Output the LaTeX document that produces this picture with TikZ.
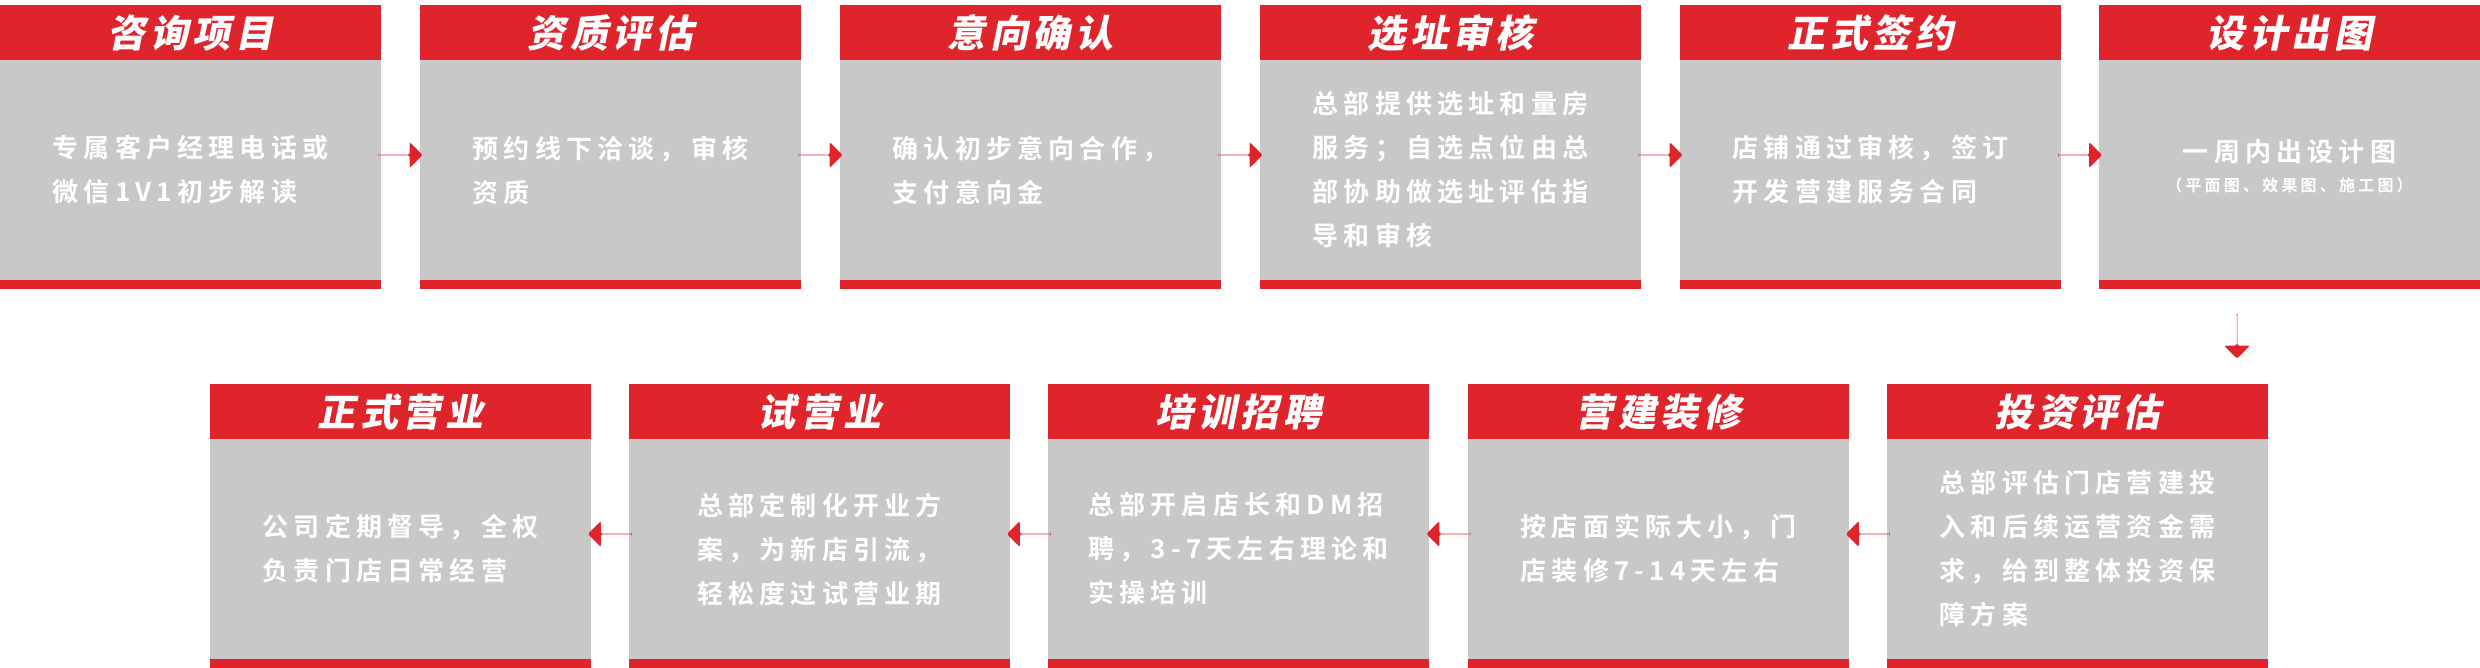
\documentclass[tikz,border=0pt]{standalone}
\usepackage{fontspec}
\usetikzlibrary{shapes.arrows,calc}
\newfontfamily\bodyf[LetterSpace=20]{Noto Sans CJK SC Bold}
\newfontfamily\headf[LetterSpace=12,FakeSlant=0.2]{Noto Sans CJK SC Black}
\definecolor{brand}{HTML}{E0242C}
\definecolor{panel}{HTML}{C8C8C8}
\tikzset{
  x=1pt,y=-1pt,
  bodytxt/.style={text=white,font=\bodyf\fontsize{26}{44}\selectfont,align=left,inner sep=0},
  headtxt/.style={text=white,font=\headf\fontsize{38}{40}\selectfont,inner sep=0},
  flowarrow/.style={single arrow,fill=brand,draw=none,minimum height=44,minimum width=26,single arrow head extend=10pt,single arrow head indent=0pt,inner sep=0,rounded corners=2pt},
}
\newcommand\stepbox[5]{%
  \fill[brand] (#2,#3) rectangle ++(381,55);
  \fill[panel] (#2,#3+55) rectangle ++(381,220);
  \fill[brand] (#2,#3+275) rectangle ++(381,9);
  \node[headtxt] (#1h) at (#2+190.5,#3+28) {#4};
  \node[bodytxt] (#1) at (#2+190.5,#3+165) {#5};
  \coordinate (#1w) at (#2,#3+150);
  \coordinate (#1e) at (#2+381,#3+150);
}
\begin{document}
\begin{tikzpicture}
\useasboundingbox (0,0) rectangle (2480,668);
\stepbox{s1}{0}{5}{咨询项目}{专属客户经理电话或\\微信1V1初步解读}
\stepbox{s2}{420}{5}{资质评估}{预约线下洽谈，审核\\资质}
\stepbox{s3}{840}{5}{意向确认}{确认初步意向合作，\\支付意向金}
\stepbox{s4}{1260}{5}{选址审核}{总部提供选址和量房\\服务；自选点位由总\\部协助做选址评估指\\导和审核}
\stepbox{s5}{1680}{5}{正式签约}{店铺通过审核，签订\\开发营建服务合同}
\stepbox{s6}{2099}{5}{设计出图}{}
\node[bodytxt,align=center] (s6a) at (2289.5,152) {一周内出设计图};
\node[text=white,font=\bodyf\fontsize{16}{18}\selectfont,inner sep=0] (s6b) at (2289.5,185) {（平面图、效果图、施工图）};
\stepbox{s7}{1887}{384}{投资评估}{总部评估门店营建投\\入和后续运营资金需\\求，给到整体投资保\\障方案}
\stepbox{s8}{1468}{384}{营建装修}{按店面实际大小，门\\店装修7-14天左右}
\stepbox{s9}{1048}{384}{培训招聘}{总部开启店长和DM招\\聘，3-7天左右理论和\\实操培训}
\stepbox{s10}{629}{384}{试营业}{总部定制化开业方\\案，为新店引流，\\轻松度过试营业期}
\stepbox{s11}{210}{384}{正式营业}{公司定期督导，全权\\负责门店日常经营}
\foreach \a/\b in {s1/s2,s2/s3,s3/s4,s4/s5,s5/s6}
  \node[flowarrow] (ar\a) at ($(\a e)!0.5!(\b w)$) {};
\foreach \a/\b in {s7/s8,s8/s9,s9/s10,s10/s11}
  \node[flowarrow,shape border rotate=180] (ar\a) at ($(\a w)!0.5!(\b e)$) {};
\coordinate (dtop) at (2237,289);
\coordinate (dbot) at (2237,384);
\node[flowarrow,shape border rotate=270] (ard) at ($(dtop)!0.5!(dbot)$) {};
\end{tikzpicture}
\end{document}
